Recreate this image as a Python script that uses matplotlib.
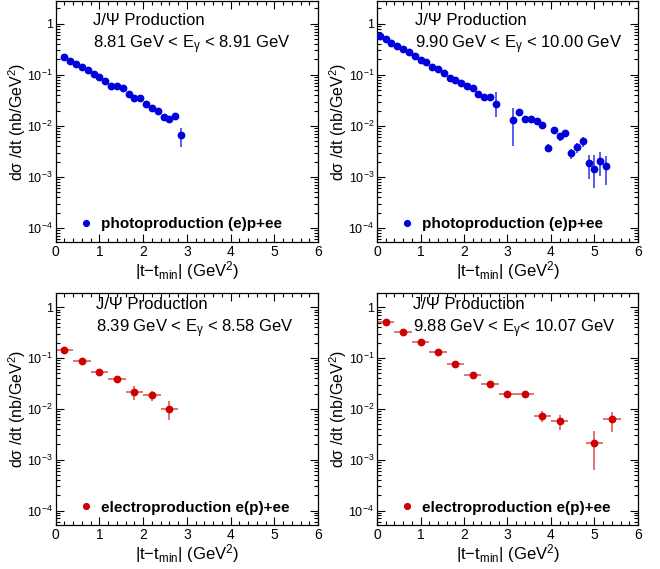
import matplotlib
matplotlib.use('Agg')
import matplotlib.pyplot as plt
import numpy as np
from matplotlib.ticker import LogLocator, MultipleLocator, NullFormatter, FixedLocator, FixedFormatter

plt.rcParams['font.family'] = ['Liberation Sans', 'DejaVu Sans']
plt.rcParams['mathtext.fontset'] = 'custom'
plt.rcParams['mathtext.rm'] = 'Liberation Sans'
plt.rcParams['mathtext.it'] = 'Liberation Sans:italic'
plt.rcParams['mathtext.bf'] = 'Liberation Sans:bold'

# ---------------- data ----------------
# top-left: photoproduction, 8.81 < Egamma < 8.91 GeV
tA = [0.200, 0.333, 0.467, 0.600, 0.733, 0.867, 1.000, 1.133, 1.267, 1.400, 1.533,
      1.667, 1.800, 1.933, 2.067, 2.200, 2.333, 2.467, 2.600, 2.733, 2.867]
yA = [0.224, 0.190, 0.163, 0.140, 0.122, 0.102, 0.0890, 0.0765, 0.0592, 0.0592, 0.0541,
      0.0412, 0.0354, 0.0359, 0.0273, 0.0228, 0.0193, 0.0152, 0.0137, 0.0156, 0.0066]
loA = [0.224, 0.190, 0.163, 0.140, 0.122, 0.102, 0.0890, 0.0765, 0.0592, 0.0592, 0.0541,
       0.0412, 0.0354, 0.0359, 0.0273, 0.0228, 0.0193, 0.0152, 0.0137, 0.0150, 0.0039]
hiA = [0.224, 0.190, 0.163, 0.140, 0.122, 0.102, 0.0890, 0.0765, 0.0592, 0.0592, 0.0541,
       0.0412, 0.0354, 0.0359, 0.0273, 0.0228, 0.0193, 0.0152, 0.0137, 0.0162, 0.0092]

# top-right: photoproduction, 9.90 < Egamma < 10.00 GeV
tB = [0.067, 0.200, 0.333, 0.467, 0.600, 0.733, 0.867, 1.000, 1.133, 1.267, 1.400,
      1.533, 1.667, 1.800, 1.933, 2.067, 2.200, 2.333, 2.467, 2.600, 2.733,
      3.133, 3.267, 3.400, 3.533, 3.667, 3.800, 3.933, 4.067, 4.200, 4.333,
      4.467, 4.600, 4.733, 4.867, 5.000, 5.133, 5.267]
yB = [0.587, 0.496, 0.426, 0.366, 0.319, 0.282, 0.231, 0.199, 0.176, 0.144, 0.128,
      0.108, 0.0871, 0.0807, 0.0704, 0.0596, 0.0543, 0.0413, 0.0366, 0.0366, 0.0269,
      0.0130, 0.0184, 0.0136, 0.0136, 0.0122, 0.0103, 0.00371, 0.00820, 0.00623, 0.00726,
      0.00300, 0.00383, 0.00496, 0.00184, 0.00142, 0.00208, 0.00160]
loB = [0.587, 0.496, 0.426, 0.366, 0.319, 0.282, 0.231, 0.199, 0.176, 0.144, 0.128,
       0.108, 0.0871, 0.0807, 0.0704, 0.0596, 0.0543, 0.0413, 0.0366, 0.0366, 0.0151,
       0.00395, 0.0184, 0.0136, 0.0136, 0.0122, 0.0103, 0.00314, 0.00726, 0.00504, 0.00633,
       0.00224, 0.00295, 0.00383, 0.000899, 0.000614, 0.00105, 0.000683]
hiB = [0.587, 0.496, 0.426, 0.366, 0.319, 0.282, 0.231, 0.199, 0.176, 0.144, 0.128,
       0.108, 0.0871, 0.0807, 0.0704, 0.0596, 0.0543, 0.0413, 0.0366, 0.0366, 0.0459,
       0.0221, 0.0184, 0.0136, 0.0136, 0.0122, 0.0103, 0.00439, 0.00927, 0.00726, 0.00820,
       0.00355, 0.00459, 0.00604, 0.00274, 0.00274, 0.00314, 0.00254]

# bottom-left: electroproduction, 8.39 < Egamma < 8.58 GeV
tC = [0.2, 0.6, 1.0, 1.4, 1.8, 2.2, 2.6]
wC = [0.2, 0.2, 0.2, 0.2, 0.2, 0.2, 0.2]
yC = [0.142, 0.0890, 0.0532, 0.0387, 0.0212, 0.0185, 0.0101]
loC = [0.142, 0.0890, 0.0532, 0.0387, 0.0152, 0.0141, 0.00594]
hiC = [0.142, 0.0890, 0.0532, 0.0387, 0.0278, 0.0228, 0.0141]

# bottom-right: electroproduction, 9.88 < Egamma < 10.07 GeV
tD = [0.2, 0.6, 1.0, 1.4, 1.8, 2.2, 2.6, 3.0, 3.4, 3.8, 4.2, 5.0, 5.4]
wD = [0.2, 0.2, 0.2, 0.2, 0.2, 0.2, 0.2, 0.2, 0.2, 0.2, 0.2, 0.2, 0.2]
yD = [0.507, 0.322, 0.208, 0.130, 0.0777, 0.0458, 0.0304, 0.0193, 0.0199, 0.00735,
      0.00586, 0.00209, 0.00622]
loD = [0.507, 0.322, 0.208, 0.130, 0.0777, 0.0458, 0.0304, 0.0164, 0.0169, 0.00543,
       0.00378, 0.000615, 0.00345]
hiD = [0.507, 0.322, 0.208, 0.130, 0.0777, 0.0458, 0.0304, 0.0221, 0.0228, 0.00922,
       0.00769, 0.00361, 0.00868]

titles = ["8.81 GeV < E$_{\\mathregular{\u03b3}}$ < 8.91 GeV",
          "9.90 GeV < E$_{\\mathregular{\u03b3}}$ < 10.00 GeV",
          "8.39 GeV < E$_{\\mathregular{\u03b3}}$ < 8.58 GeV",
          "9.88 GeV < E$_{\\mathregular{\u03b3}}$< 10.07 GeV"]
legend_photo = "photoproduction (e)p+ee"
legend_electro = "electroproduction e(p)+ee"
xticks = [0, 1, 2, 3, 4, 5, 6]
yticks = [1e-4, 1e-3, 1e-2, 1e-1, 1]
ytick_labels = ["10$^{\\mathregular{-4}}$", "10$^{\\mathregular{-3}}$", "10$^{\\mathregular{-2}}$",
                "10$^{\\mathregular{-1}}$", "1"]

BLUE = '#0000dd'
BLUE_E = '#5a5af0'
RED = '#d00000'
RED_E = '#e57373'

fig = plt.figure(figsize=(6.60, 5.69), dpi=100)

W, H = 660.0, 569.0
def axes_px(x0, x1, ytop, ybot):
    return fig.add_axes([x0 / W, (H - ybot) / H, (x1 - x0) / W, (ybot - ytop) / H])

axA = axes_px(55.7, 318.0, 1.0, 242.0)
axB = axes_px(377.0, 638.0, 1.0, 242.0)
axC = axes_px(55.7, 318.0, 292.5, 525.0)
axD = axes_px(377.0, 638.0, 292.5, 525.0)

def style(ax, top_row):
    ax.set_yscale('log')
    ax.set_xlim(0, 6)
    if top_row:
        ax.set_ylim(5.3e-5, 2.8)
    else:
        ax.set_ylim(5.2e-5, 1.95)
    ax.xaxis.set_major_locator(FixedLocator(xticks))
    ax.xaxis.set_major_formatter(FixedFormatter([str(v) for v in xticks]))
    ax.xaxis.set_minor_locator(MultipleLocator(0.2))
    ax.yaxis.set_major_locator(FixedLocator(yticks))
    ax.yaxis.set_major_formatter(FixedFormatter(ytick_labels))
    ax.yaxis.set_minor_locator(LogLocator(base=10, subs=np.arange(2, 10), numticks=20))
    ax.yaxis.set_minor_formatter(NullFormatter())
    ax.tick_params(which='both', direction='in', top=True, right=True, width=0.8, color='black')
    ax.tick_params(which='major', length=5.5)
    ax.tick_params(which='minor', length=2.8)
    ax.tick_params(axis='x', which='major', labelsize=10, pad=2.5)
    ax.tick_params(axis='y', which='major', labelsize=9, pad=2)
    for s in ax.spines.values():
        s.set_linewidth(0.9)
    ax.set_xlabel("|t\u2212t$_{\\mathregular{min}}$| (GeV$^{\\mathregular{2}}$)", fontsize=12, va='center')
    ax.set_ylabel("d\u03c3 /dt (nb/GeV$^{\\mathregular{2}}$)", fontsize=11.5, va='center')

def draw(ax, t, y, lo, hi, xerr, col, ecol, label, title, top_row, tx):
    y = np.asarray(y); lo = np.asarray(lo); hi = np.asarray(hi)
    ax.errorbar(t, y, yerr=[y - lo, hi - y], xerr=xerr, fmt='none', ecolor=ecol,
                elinewidth=1.4, capsize=0, zorder=2)
    ax.plot(t, y, 'o', color=col, ms=4.6, mec=col, zorder=3, label=label)
    style(ax, top_row)
    if top_row:
        y1, y2 = 0.92, 0.82
        ax.xaxis.set_label_coords(0.5, -0.12)
    else:
        y1, y2 = 0.948, 0.843
        ax.xaxis.set_label_coords(0.5, -0.122)
    ax.yaxis.set_label_coords(-0.148, 0.5)
    ax.text(tx, y1, "J/\u03a8 Production", transform=ax.transAxes, fontsize=12,
            ha='left', va='center')
    ax.text(tx, y2, title, transform=ax.transAxes, fontsize=12, ha='left', va='center')
    ax.legend(loc='center left', bbox_to_anchor=(0.085, 0.075), frameon=False,
              handlelength=1.0, handletextpad=0.5, borderpad=0, borderaxespad=0,
              prop={'weight': 'bold', 'size': 11}, numpoints=1, markerscale=0.9)

draw(axA, tA, yA, loA, hiA, None, BLUE, BLUE_E, legend_photo, titles[0], True, 0.143)
draw(axB, tB, yB, loB, hiB, None, BLUE, BLUE_E, legend_photo, titles[1], True, 0.146)
draw(axC, tC, yC, loC, hiC, wC, RED, RED_E, legend_electro, titles[2], False, 0.153)
draw(axD, tD, yD, loD, hiD, wD, RED, RED_E, legend_electro, titles[3], False, 0.138)

fig.savefig('out.png', dpi=100)
